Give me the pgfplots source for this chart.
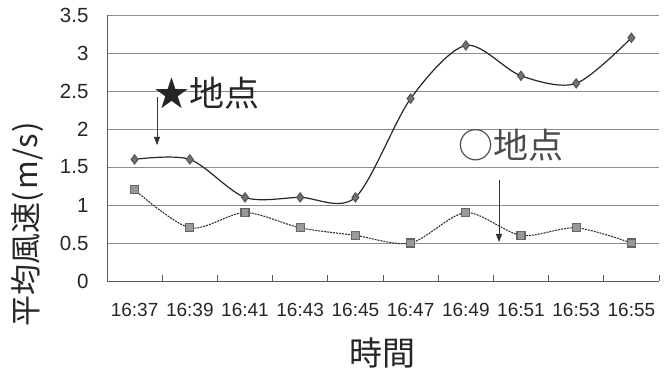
\documentclass[border=0pt]{standalone}
\usepackage{fontspec}
\usepackage{pgfplots}
\usepackage{pgfplotstable}
\pgfplotsset{compat=1.18}
\usetikzlibrary{arrows.meta}
\setmainfont{Liberation Sans}
\newfontfamily\jp{Noto Sans CJK JP}

% average wind speed (m/s) at the two observation points
\pgfplotstableread{
idx star circ
1  1.6 1.2
2  1.6 0.7
3  1.1 0.9
4  1.1 0.7
5  1.1 0.6
6  2.4 0.5
7  3.1 0.9
8  2.7 0.6
9  2.6 0.7
10 3.2 0.5
}\speed

\begin{document}
\begin{tikzpicture}[x=1pt,y=1pt]
\useasboundingbox (0,0) rectangle (665,374);
\begin{axis}[
  at={(107pt,93pt)}, anchor=south west,
  scale only axis, width=552pt, height=266pt,
  xmin=0.5, xmax=10.5, ymin=0, ymax=3.5,
  axis x line*=bottom, axis y line*=left,
  axis line style={draw=black!65, line width=0.8pt},
  xtick={1,...,10},
  xticklabels={16:37,16:39,16:41,16:43,16:45,16:47,16:49,16:51,16:53,16:55},
  minor xtick={0.5,1.5,...,10.5},
  major x tick style={draw=none},
  minor x tick style={draw=black!65, line width=0.8pt},
  minor tick length=6pt, tick align=inside,
  ytick={0,0.5,...,3.5},
  ytick style={draw=none},
  ymajorgrids, grid style={draw=black!45, line width=0.8pt},
  /pgf/number format/assume math mode=true,
  tick label style={text=black!85},
  xticklabel style={font=\fontsize{19}{19}\selectfont, yshift=-19pt},
  yticklabel style={font=\fontsize{20.5}{20.5}\selectfont, xshift=-15pt},
  clip=false,
]
\addplot[black!85, line width=1.2pt, smooth, tension=0.5,
  mark=diamond*, mark size=4.5pt,
  mark options={solid, fill=black!55, draw=black!65}]
  table[x=idx, y=star] {\speed};
\addplot[black!80, line width=1.1pt, smooth, tension=0.5,
  dash pattern=on 2pt off 1pt,
  mark=square*, mark size=4pt,
  mark options={solid, fill=black!40, draw=black!60}]
  table[x=idx, y=circ] {\speed};
\end{axis}

% axis titles
\node[rotate=90, text=black!85] at (28,150)
  {\jp\fontsize{31}{31}\selectfont 平均風速(\kern2pt m/s\kern2pt)};
\node[text=black!85] at (382,21)
  {\jp\fontsize{33}{33}\selectfont 時間};

% point labels with pointers
\node[text=black!85] at (207,281) {\jp\fontsize{35}{35}\selectfont ★地点};
\draw[black!80, line width=0.8pt, -{Triangle[length=8pt,width=6pt]}] (157,277) -- (157,229);
\node[text=black!70] at (511,229) {\jp\fontsize{35}{35}\selectfont ○地点};
\draw[black!80, line width=0.8pt, -{Triangle[length=8pt,width=6pt]}] (499,194) -- (499,132);
\end{tikzpicture}
\end{document}
